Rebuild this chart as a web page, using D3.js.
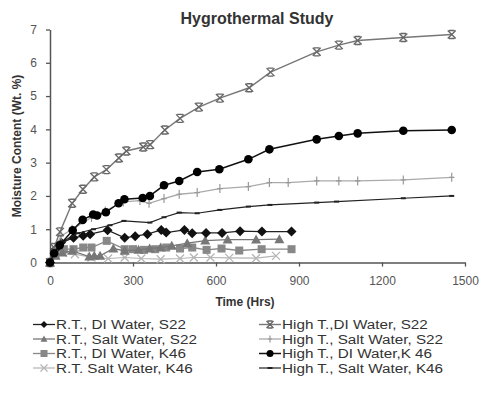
<!DOCTYPE html>
<html><head><meta charset="utf-8">
<script src="https://cdn.jsdelivr.net/npm/d3@7/dist/d3.min.js"></script>
<style>body{margin:0;background:#fff}svg{display:block}text{font-family:Arial,"Liberation Sans",sans-serif}</style>
</head><body><svg id="c" width="481" height="401"></svg>
<script>
const title = "Hygrothermal Study";
const xLabel = "Time (Hrs)";
const yLabel = "Moisture Content (Wt. %)";
const xTicks = [0, 300, 600, 900, 1200, 1500];
const yTicks = [0, 1, 2, 3, 4, 5, 6, 7];

const seriesNames = [
  "R.T., DI Water, S22", "R.T., Salt Water, S22", "R.T., DI Water, K46", "R.T. Salt Water, K46",
  "High T.,DI Water, S22", "High T., Salt Water, S22", "High T., DI Water,K 46", "High T., Salt Water, K46"
];

const rtDiS22 = [[0,0],[20,0.4],[40,0.6],[85,0.74],[120,0.8],[145,0.85],[208,0.97],[270,0.74],[308,0.79],[352,0.85],[402,0.98],[420,0.9],[486,0.98],[514,0.88],[564,0.89],[622,0.89],[687,0.94],[766,0.93],[873,0.93]];
const rtSaltS22 = [[0,0],[20,0.2],[45,0.3],[80,0.35],[142,0.18],[160,0.2],[181,0.2],[229,0.42],[270,0.35],[320,0.38],[360,0.42],[400,0.45],[440,0.5],[496,0.58],[561,0.66],[642,0.69],[745,0.69],[829,0.7]];
const rtDiK46 = [[0,0],[20,0.3],[50,0.4],[85,0.4],[120,0.45],[150,0.45],[205,0.65],[270,0.4],[300,0.4],[340,0.38],[380,0.4],[420,0.45],[470,0.42],[514,0.45],[566,0.38],[620,0.42],[684,0.36],[765,0.4],[873,0.4]];
const rtSaltK46 = [[0,0],[20,0.25],[45,0.3],[90,0.25],[150,0.15],[210,0.12],[270,0.15],[330,0.12],[400,0.1],[470,0.12],[520,0.15],[580,0.15],[648,0.14],[745,0.13],[817,0.2]];
const htDiS22 = [[0,0],[15,0.45],[36,0.92],[80,1.78],[119,2.2],[160,2.57],[204,2.79],[249,3.14],[276,3.35],[337,3.47],[362,3.54],[415,3.98],[470,4.33],[538,4.67],[614,4.94],[720,5.25],[797,5.72],[964,6.33],[1044,6.53],[1112,6.67],[1277,6.76],[1452,6.85]];
const htSaltS22 = [[0,0],[20,0.45],[40,0.8],[80,1.0],[150,1.35],[200,1.55],[265,1.82],[325,1.86],[358,1.78],[412,1.92],[467,2.05],[532,2.1],[614,2.22],[717,2.28],[793,2.4],[861,2.4],[964,2.45],[1044,2.45],[1112,2.45],[1277,2.48],[1452,2.56]];
const htDiK46 = [[0,0],[15,0.28],[35,0.52],[82,0.97],[118,1.28],[156,1.44],[170,1.41],[202,1.51],[248,1.78],[269,1.9],[335,1.94],[361,2.0],[412,2.32],[467,2.45],[532,2.72],[612,2.8],[717,3.1],[793,3.4],[964,3.7],[1044,3.8],[1112,3.88],[1277,3.96],[1452,3.98]];
const htSaltK46 = [[0,0],[20,0.35],[50,0.65],[100,0.88],[157,1.0],[217,1.12],[267,1.25],[361,1.2],[412,1.36],[467,1.5],[532,1.48],[614,1.58],[717,1.68],[795,1.73],[964,1.8],[1036,1.83],[1277,1.93],[1452,2.0]];

const seriesData = [rtDiS22, rtSaltS22, rtDiK46, rtSaltK46, htDiS22, htSaltS22, htDiK46, htSaltK46];
const styles = [
  {line:"#222", fill:"#111", marker:"diamond", size:5, lw:1.3},
  {line:"#777", fill:"#777", marker:"triangle", size:5, lw:1.3},
  {line:"#888", fill:"#888", marker:"square", size:4, lw:1.3},
  {line:"#b5b5b5", fill:"#b5b5b5", marker:"x", size:4, lw:1.2},
  {line:"#777", fill:"#666", marker:"star", size:4, lw:1.4},
  {line:"#aaa", fill:"#999", marker:"plus", size:4.5, lw:1.3},
  {line:"#111", fill:"#000", marker:"circle", size:4.3, lw:1.5},
  {line:"#222", fill:"#222", marker:"dash", size:2.5, lw:1.2}
];

const svg = d3.select("#c");
const x = d3.scaleLinear().domain([0,1500]).range([50,465]);
const y = d3.scaleLinear().domain([0,7]).range([262.5,29.5]);

svg.append("text").attr("x",257).attr("y",24).attr("text-anchor","middle")
  .attr("font-size","16px").attr("font-weight","bold").attr("fill","#333").text(title);

// axes
const xa = svg.append("g").attr("transform","translate(0,262.5)")
  .call(d3.axisBottom(x).tickValues(xTicks).tickFormat(d3.format("d")).tickSize(4).tickSizeOuter(0));
const ya = svg.append("g").attr("transform","translate(50,0)")
  .call(d3.axisLeft(y).tickValues(yTicks).tickFormat(d3.format("d")).tickSize(4).tickSizeOuter(0));
[xa,ya].forEach(a=>{
  a.select(".domain").attr("stroke","#555").attr("stroke-width",1.5);
  a.selectAll(".tick line").attr("stroke","#555").attr("stroke-width",1.3);
  a.selectAll(".tick text").attr("fill","#555").attr("font-size","12px").attr("font-family","Arial, 'Liberation Sans', sans-serif");
});
xa.selectAll(".tick text").attr("dy","1.3em");
ya.selectAll(".tick text").attr("dx","-0.5em");

svg.append("text").attr("x",245).attr("y",306).attr("text-anchor","middle")
  .attr("font-size","12px").attr("font-weight","bold").attr("fill","#333").text(xLabel);
svg.append("text").attr("transform","translate(21,146) rotate(-90)").attr("text-anchor","middle")
  .attr("font-size","12px").attr("font-weight","bold").attr("fill","#333").text(yLabel);

function drawMarker(g, type, cx, cy, s, st){
  if(type==="circle") g.append("circle").attr("cx",cx).attr("cy",cy).attr("r",s).attr("fill",st.fill);
  else if(type==="diamond") g.append("path").attr("d",`M${cx},${cy-s}L${cx+s},${cy}L${cx},${cy+s}L${cx-s},${cy}Z`).attr("fill",st.fill);
  else if(type==="square") g.append("rect").attr("x",cx-s).attr("y",cy-s).attr("width",2*s).attr("height",2*s).attr("fill",st.fill);
  else if(type==="triangle") g.append("path").attr("d",`M${cx},${cy-s}L${cx+s},${cy+s*0.8}L${cx-s},${cy+s*0.8}Z`).attr("fill",st.fill);
  else if(type==="x") g.append("path").attr("d",`M${cx-s},${cy-s}L${cx+s},${cy+s}M${cx-s},${cy+s}L${cx+s},${cy-s}`).attr("stroke",st.fill).attr("stroke-width",1.3).attr("fill","none");
  else if(type==="star") g.append("path").attr("d",`M${cx-s},${cy-s}L${cx+s},${cy+s}M${cx-s},${cy+s}L${cx+s},${cy-s}M${cx-s*0.7},${cy-s}L${cx+s*0.7},${cy-s}M${cx-s*0.7},${cy+s}L${cx+s*0.7},${cy+s}`).attr("stroke",st.fill).attr("stroke-width",1.3).attr("fill","none");
  else if(type==="plus") g.append("path").attr("d",`M${cx},${cy-s}L${cx},${cy+s}M${cx-s*0.6},${cy}L${cx+s*0.6},${cy}`).attr("stroke",st.fill).attr("stroke-width",1.2).attr("fill","none");
  else if(type==="dash") g.append("path").attr("d",`M${cx-s},${cy}L${cx+s},${cy}`).attr("stroke",st.fill).attr("stroke-width",2).attr("fill","none");
}

const line = d3.line().x(d=>x(d[0])).y(d=>y(d[1]));
const order = [3,2,1,0,7,5,4,6];
order.forEach(i=>{
  const st = styles[i];
  const g = svg.append("g");
  g.append("path").datum(seriesData[i]).attr("d",line).attr("fill","none").attr("stroke",st.line).attr("stroke-width",st.lw);
  seriesData[i].forEach(d=>drawMarker(g, st.marker, x(d[0]), y(d[1]), st.size, st));
});

// legend
const legRows = [324.5, 339, 353.5, 368];
seriesNames.forEach((name,i)=>{
  const col = Math.floor(i/4), row = i%4;
  const lx = col===0 ? 33 : 259;
  const ly = legRows[row];
  const st = styles[i];
  const g = svg.append("g");
  g.append("line").attr("x1",lx).attr("x2",lx+22).attr("y1",ly).attr("y2",ly).attr("stroke",st.line).attr("stroke-width",st.lw);
  drawMarker(g, st.marker, lx+11, ly, Math.min(st.size,3.5), st);
  const t = g.append("text").attr("x",lx+23).attr("y",ly).attr("dy","0.36em").attr("font-size","12.5px").attr("fill","#333").text(name);
  const w = t.node().getComputedTextLength();
  t.attr("textLength", w*1.22).attr("lengthAdjust","spacingAndGlyphs");
});
</script></body></html>
